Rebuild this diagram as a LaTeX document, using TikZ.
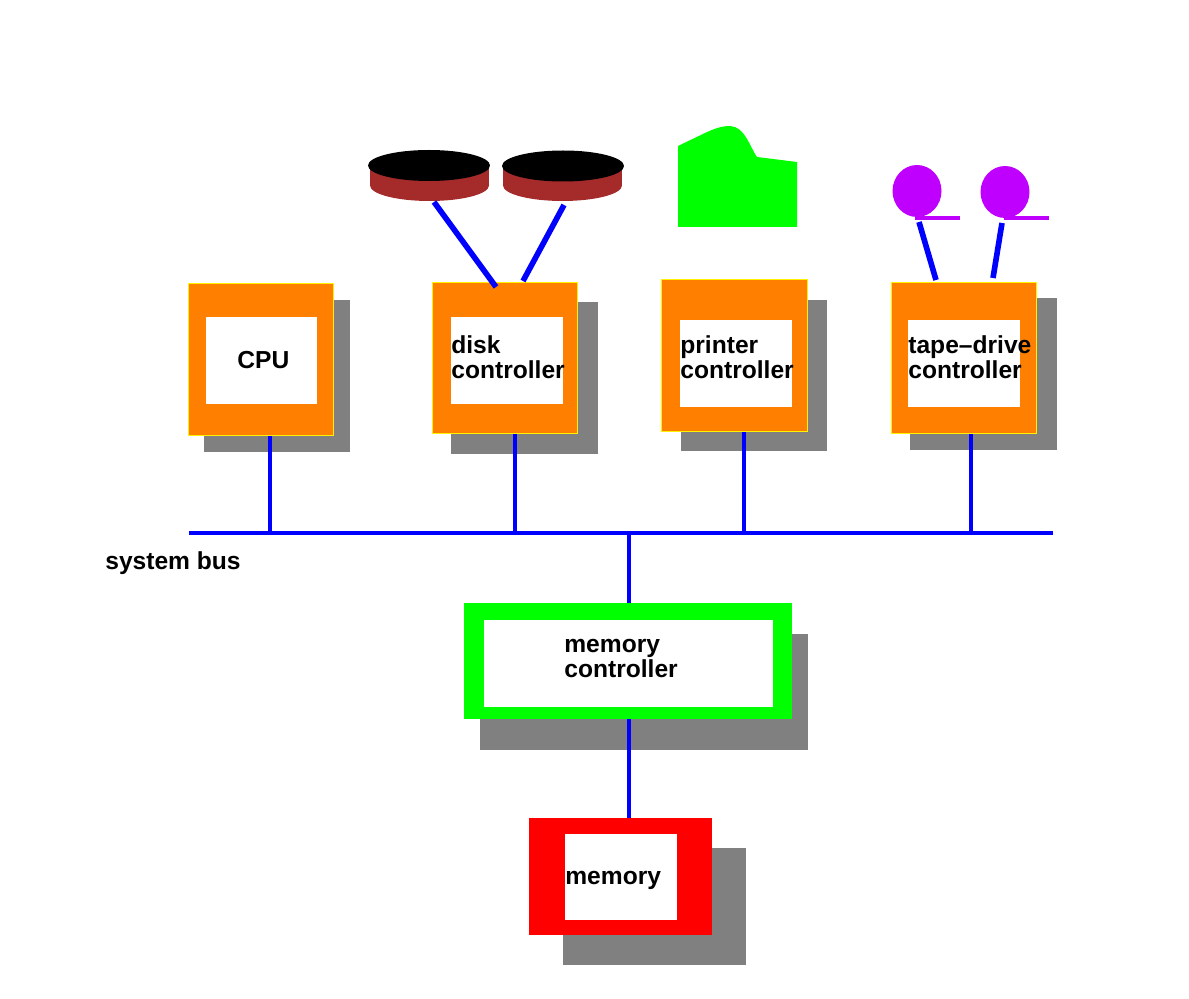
\documentclass[tikz,border=0pt]{standalone}
\usepackage{fontspec}
\setmainfont{Liberation Sans}
\usepackage{tikz}
\usetikzlibrary{shapes.geometric}
\usepackage{xcolor}
\definecolor{myorange}{RGB}{255,128,0}
\definecolor{mygray}{RGB}{128,128,128}
\definecolor{mybrown}{RGB}{165,42,42}
\definecolor{mygreen}{RGB}{0,255,0}
\definecolor{mypurple}{RGB}{191,0,255}
\definecolor{myblue}{RGB}{0,0,255}
\definecolor{myred}{RGB}{255,0,0}

\tikzset{
  shadowbox/.style={rectangle, fill=mygray, minimum width=2.94cm, minimum height=3.04cm, inner sep=0},
  ctrlbox/.style={rectangle, fill=myorange, draw=yellow, line width=0.7pt, minimum width=2.91cm, minimum height=3.03cm, inner sep=0},
  innerbox/.style={rectangle, fill=white, minimum width=2.24cm, minimum height=1.74cm, inner sep=0},
  boxtext/.style={anchor=west, align=left, inner sep=0, font=\fontsize{14}{14.2}\selectfont\bfseries},
  busline/.style={draw=myblue, line width=2.1pt},
  linkline/.style={draw=myblue, line width=3.2pt}
}

\begin{document}
\begin{tikzpicture}[x=0.02cm,y=-0.02cm]
  \useasboundingbox (0,0) rectangle (1189,999);

  % Shadows
  \node[shadowbox] (cpushadow) at (277,376) {};
  \node[shadowbox] (diskshadow) at (524.5,378) {};
  \node[shadowbox] (printershadow) at (754,375.5) {};
  \node[shadowbox] (tapeshadow) at (983.5,374) {};
  \node[shadowbox, minimum width=6.56cm, minimum height=2.32cm] (memctrlshadow) at (644,692) {};
  \node[shadowbox, minimum width=3.66cm, minimum height=2.34cm] (memshadow) at (654.5,906.5) {};

  % Controller boxes
  \node[ctrlbox] (cpu) at (261,359.5) {};
  \node[ctrlbox] (disk) at (505,358) {};
  \node[ctrlbox] (printer) at (734.5,355.5) {};
  \node[ctrlbox] (tape) at (964,358) {};
  \node[innerbox] (cpuin) at (261.5,360.5) {};
  \node[innerbox] (diskin) at (507,360.5) {};
  \node[innerbox] (printerin) at (736,363.5) {};
  \node[innerbox] (tapein) at (964,363.5) {};

  % Memory side
  \node[rectangle, fill=mygreen, minimum width=6.56cm, minimum height=2.32cm, inner sep=0] (memctrl) at (628,661) {};
  \node[innerbox, minimum width=5.78cm, minimum height=1.74cm] (memctrlin) at (628.5,663.5) {};
  \node[rectangle, fill=myred, minimum width=3.66cm, minimum height=2.34cm, inner sep=0] (mem) at (620.5,876.5) {};
  \node[innerbox] (memin) at (621,877) {};

  % Labels
  \node[boxtext] (cputext) at (237,360) {CPU};
  \node[boxtext] (disktext) at (451,357) {disk\\controller};
  \node[boxtext] (printertext) at (680,357) {printer\\controller};
  \node[boxtext] (tapetext) at (908,357) {tape–drive\\controller};
  \node[boxtext] (memctrltext) at (564,658.5) {memory\\controller};
  \node[boxtext] (memtext) at (565,880) {memory};
  \node[boxtext] (bustext) at (105,563) {system bus};

  % Bus
  \coordinate (busleft) at (189,533);
  \coordinate (busright) at (1053,533);
  \coordinate (buscpu) at (270,533);
  \coordinate (busdisk) at (515,533);
  \coordinate (busprinter) at (744,533);
  \coordinate (bustape) at (971,533);
  \coordinate (busmem) at (629,533);
  \draw[busline] (busleft) -- (busright);
  \draw[busline] (buscpu |- cpu.south) -- (buscpu);
  \draw[busline] (busdisk |- disk.south) -- (busdisk);
  \draw[busline] (busprinter |- printer.south) -- (busprinter);
  \draw[busline] (bustape |- tape.south) -- (bustape);
  \draw[busline] (busmem) -- (busmem |- memctrl.north);
  \draw[busline] (busmem |- memctrl.south) -- (busmem |- mem.north);

  % Disks
  \node[ellipse, fill=mybrown, minimum width=2.38cm, minimum height=0.62cm, inner sep=0] (disklow1) at (429.5,185.5) {};
  \node[rectangle, fill=mybrown, minimum width=2.38cm, minimum height=0.4cm, inner sep=0] (diskside1) at (429.5,175) {};
  \node[ellipse, fill=black, minimum width=2.44cm, minimum height=0.62cm, inner sep=0] (disktop1) at (429,165.5) {};
  \node[ellipse, fill=mybrown, minimum width=2.38cm, minimum height=0.62cm, inner sep=0] (disklow2) at (562.5,185.5) {};
  \node[rectangle, fill=mybrown, minimum width=2.38cm, minimum height=0.4cm, inner sep=0] (diskside2) at (562.5,175) {};
  \node[ellipse, fill=black, minimum width=2.44cm, minimum height=0.62cm, inner sep=0] (disktop2) at (563,166) {};
  \coordinate (diskend1) at (434,202);
  \coordinate (diskend2) at (564,205);
  \coordinate (ctrlend1) at (496,287);
  \coordinate (ctrlend2) at (523,281);
  \draw[linkline] (diskend1) -- (ctrlend1);
  \draw[linkline] (diskend2) -- (ctrlend2);

  % Printer
  \fill[mygreen] (678,146) -- (705,133) .. controls (722,125) and (734,123) .. (742,132)
    .. controls (749,140) and (752,150) .. (757,157) -- (797,162) -- (797,227) -- (678,227) -- cycle;

  % Tape drives
  \node[ellipse, fill=mypurple, minimum width=0.98cm, minimum height=1.04cm, inner sep=0] (reel1) at (917,191) {};
  \node[rectangle, fill=mypurple, minimum width=0.9cm, minimum height=0.09cm, inner sep=0] (tapebar1) at (937.5,218) {};
  \node[ellipse, fill=mypurple, minimum width=0.98cm, minimum height=1.04cm, inner sep=0] (reel2) at (1005,192) {};
  \node[rectangle, fill=mypurple, minimum width=0.9cm, minimum height=0.09cm, inner sep=0] (tapebar2) at (1026.5,218) {};
  \coordinate (reelend1) at (919,222);
  \coordinate (reelend2) at (1002,223);
  \coordinate (tapeend1) at (936,280);
  \coordinate (tapeend2) at (993,278);
  \draw[linkline] (reelend1) -- (tapeend1);
  \draw[linkline] (reelend2) -- (tapeend2);
\end{tikzpicture}
\end{document}
